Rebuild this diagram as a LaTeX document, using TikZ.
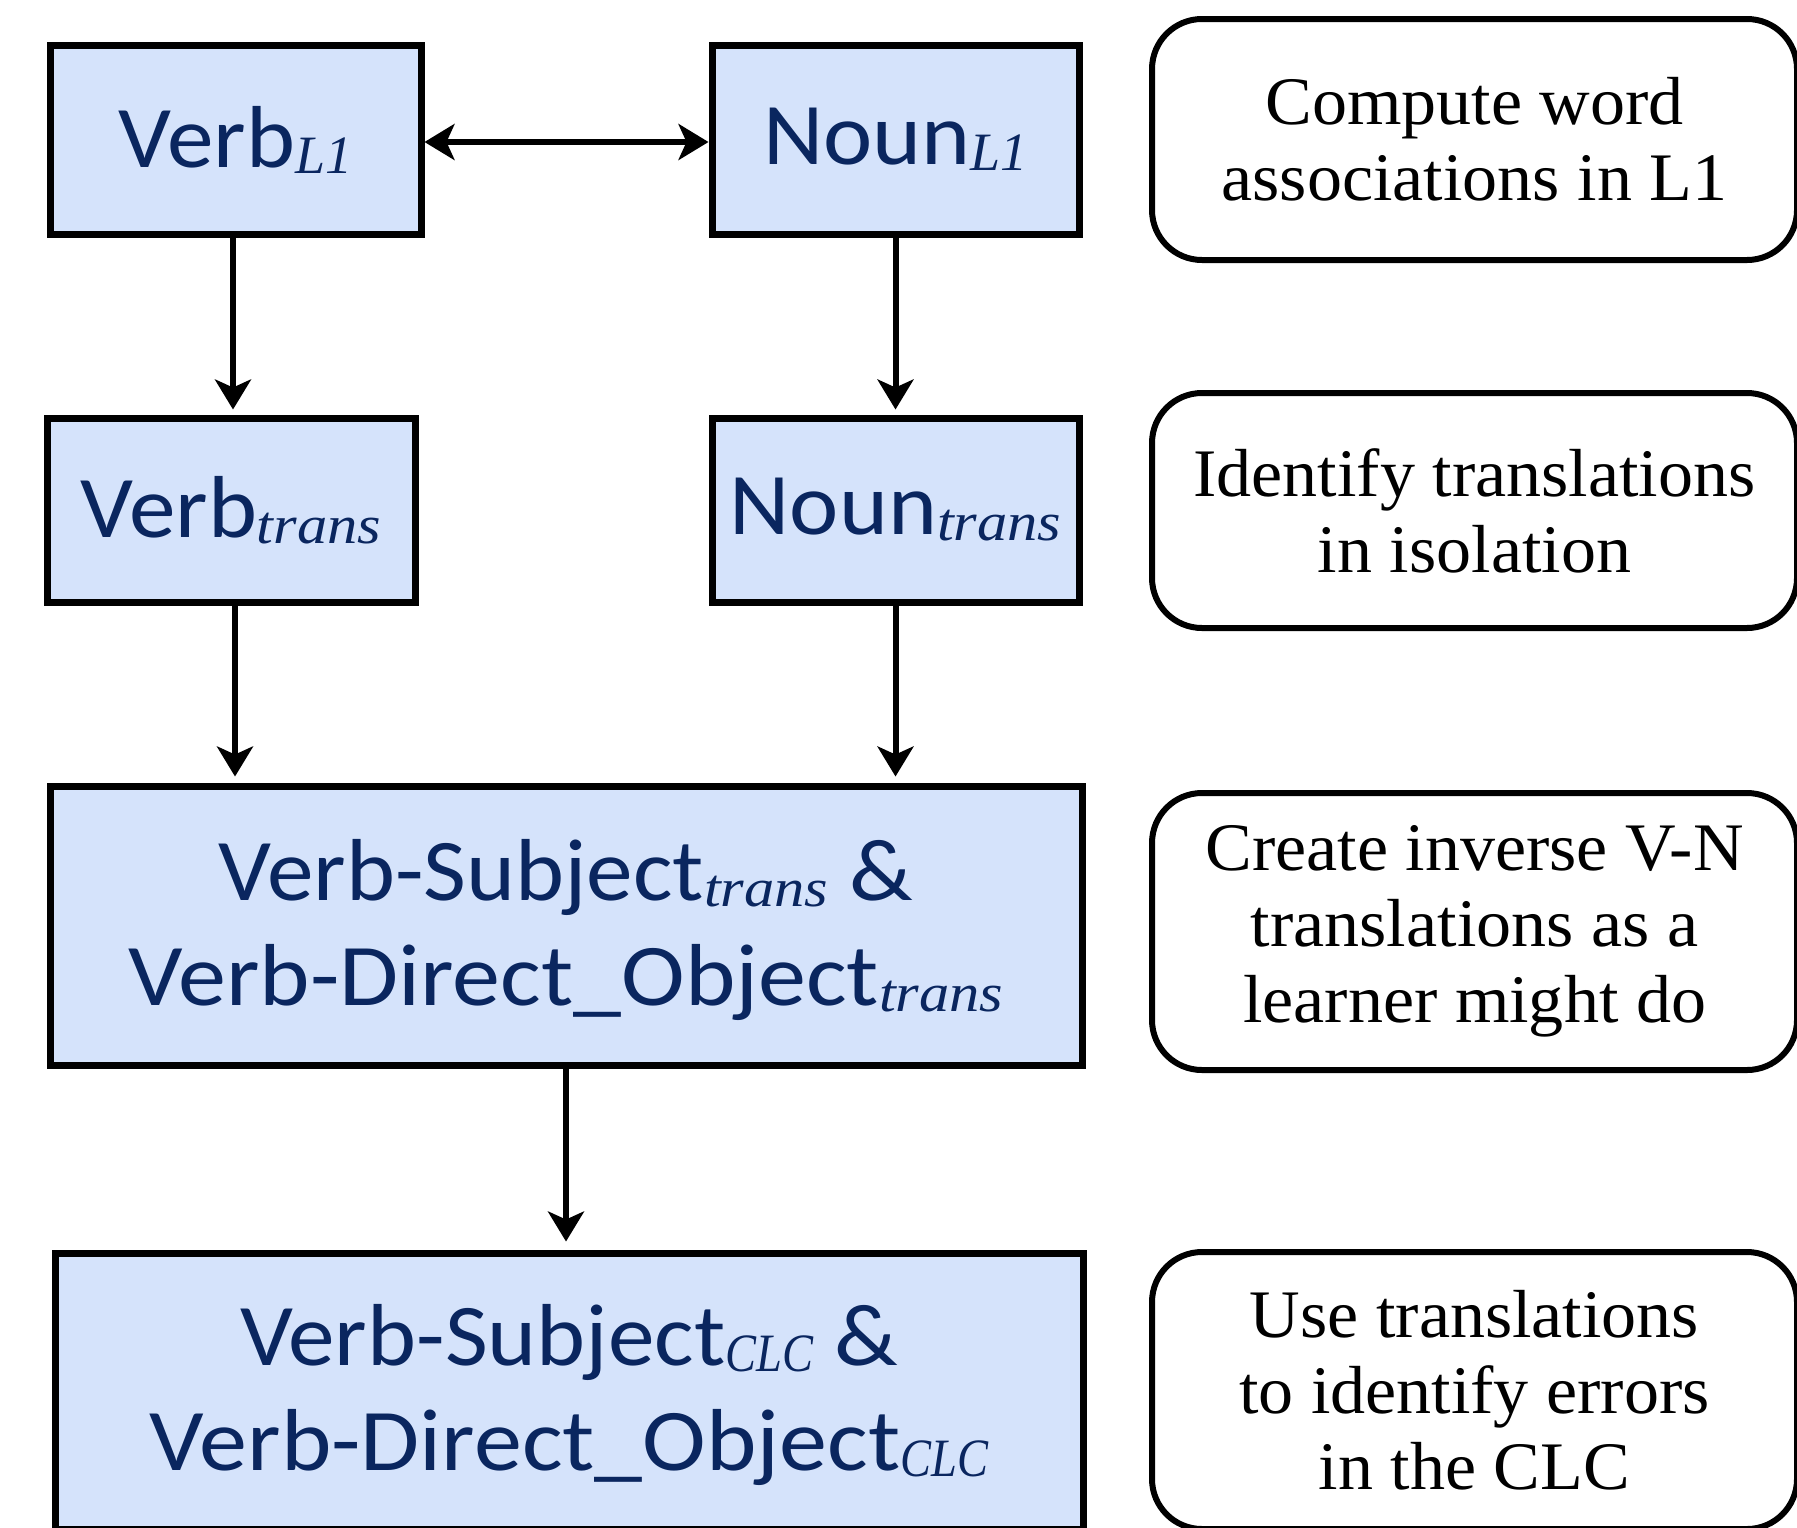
\documentclass[tikz,border=0pt]{standalone}
\usepackage{fontspec}
\usepackage{graphicx}
\usetikzlibrary{arrows.meta}
\setmainfont{Liberation Serif}
\newfontfamily\boxfont[FakeStretch=1.06]{Carlito}
\newfontfamily\subfont{Liberation Serif}
\newfontfamily\notefont[FakeStretch=1.03]{Liberation Serif}
\definecolor{boxfill}{RGB}{213,227,251}
\definecolor{boxtext}{RGB}{10,38,95}
\newcommand{\lsub}[2][1]{\raisebox{-3pt}{\scalebox{#1}[1]{\subfont\itshape\fontsize{27}{27}\selectfont #2}}}
\newcommand{\wide}[1]{\scalebox{1.03}[1]{#1}}
\newcommand{\lowered}[1]{\raisebox{-3pt}[\height][\depth]{#1}}
\begin{document}
\begin{tikzpicture}[x=0.5pt,y=-0.5pt,
  lbox/.style={draw=black, line width=3.5pt, fill=boxfill, text=boxtext,
    font=\boxfont\fontsize{44}{52.5}\selectfont, align=center, inner sep=0pt},
  rbox/.style={draw=black, line width=3pt, rounded corners=25pt, fill=white,
    font=\notefont\fontsize{34}{38}\selectfont, align=center, inner sep=0pt,
    minimum width=322.5pt},
  arr/.style={line width=3pt, -{Stealth[length=15pt,width=18pt,inset=4pt]}},
  dblarr/.style={line width=3pt, {Stealth[length=15pt,width=18pt,inset=4pt]}-{Stealth[length=15pt,width=18pt,inset=4pt]}}
]
\useasboundingbox (0,0) rectangle (1797,1527);
\clip (0,0) rectangle (1797,1527);
\fill[white] (0,0) rectangle (1797,1527);

% left boxes
\node[lbox, minimum width=185.5pt, minimum height=94.5pt] (vl1) at (235.5,139.5) {Verb\lsub{L1}};
\node[lbox, minimum width=183.5pt, minimum height=94.5pt] (nl1) at (895.5,139.5) {Noun\lsub{L1}};
\node[lbox, minimum width=184pt, minimum height=92pt] (vtr) at (231,510) {Verb\lsub[1.12]{trans}};
\node[lbox, minimum width=183.5pt, minimum height=92pt] (ntr) at (895.5,510) {Noun\lsub[1.12]{trans}};
\node[lbox, minimum width=516pt, minimum height=139.5pt] (big1) at (566,925.5)
  {\lowered{\begin{tabular}{@{}c@{}}Verb-Subject\lsub[1.12]{trans} \&\\\wide{Verb-Direct\_Object}\lsub[1.12]{trans}\end{tabular}}};
\node[lbox, minimum width=514pt, minimum height=138pt] (big2) at (569,1391)
  {\lowered{\begin{tabular}{@{}c@{}}Verb-Subject\lsub[0.86]{CLC} \&\\\wide{Verb-Direct\_Object}\lsub[0.86]{CLC}\end{tabular}}};

% right boxes
\node[rbox, minimum height=120.5pt] (r1) at (1474.5,139.5) {Compute word\\associations in L1};
\node[rbox, minimum height=117.5pt] (r2) at (1474.5,510.5) {Identify translations\\in isolation};
\node[rbox, minimum height=138.5pt] (r3) at (1474.5,931.5) {Create inverse V-N\\translations as a\\learner might do};
\node[rbox, minimum height=138.5pt] (r4) at (1474.5,1390.5) {Use translations\\to identify errors\\in the CLC};

% connectors
\draw[dblarr] ([yshift=-1.25pt]vl1.east) -- ([yshift=-1.25pt]nl1.west);
\draw[arr, shorten >=2.5pt] ([xshift=-1.25pt]vl1.south) -- ([xshift=-1.25pt]vl1.south |- vtr.north);
\draw[arr, shorten >=2.5pt] (nl1.south) -- (nl1.south |- ntr.north);
\draw[arr, shorten >=3pt] ([xshift=2pt]vtr.south) -- ([xshift=2pt]vtr.south |- big1.north);
\draw[arr, shorten >=3pt] (ntr.south) -- (ntr.south |- big1.north);
\draw[arr, shorten >=4pt] (big1.south) -- (big1.south |- big2.north);
\end{tikzpicture}
\end{document}
